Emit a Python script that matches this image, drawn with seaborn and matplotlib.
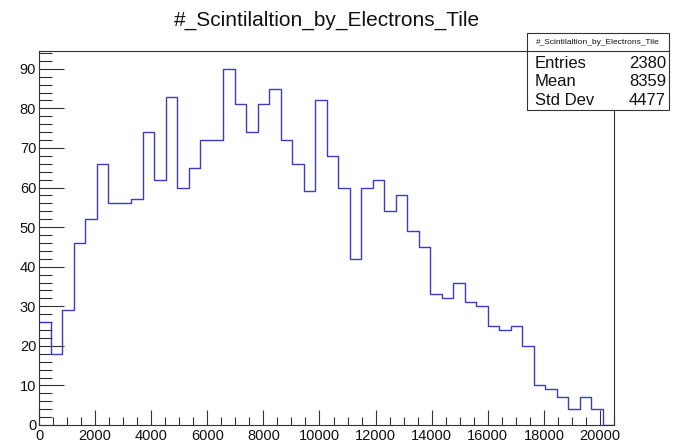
import numpy as np
import pandas as pd
import matplotlib
matplotlib.use("Agg")
import matplotlib.pyplot as plt
from matplotlib.patches import Rectangle
from matplotlib.lines import Line2D
import seaborn as sns

# ---- data ----
x_min, x_max, n_bins = 0, 20500, 50
counts = [26, 18, 29, 46, 52, 66, 56, 56, 57, 74,
          62, 83, 60, 65, 72, 72, 90, 81, 74, 81,
          85, 72, 66, 59, 82, 68, 60, 42, 60, 62,
          54, 58, 49, 45, 33, 32, 36, 31, 30, 25,
          24, 25, 20, 10, 9, 7, 4, 7, 4, 0]
title = "#_Scintilaltion_by_Electrons_Tile"
stat_names = ["Entries", "Mean", "Std Dev"]
stat_values = ["2380", "8359", "4477"]
x_ticks = [0, 2000, 4000, 6000, 8000, 10000, 12000, 14000, 16000, 18000, 20000]
y_ticks = [0, 10, 20, 30, 40, 50, 60, 70, 80, 90]

bin_w = (x_max - x_min) / n_bins
centers = x_min + bin_w * (np.arange(n_bins) + 0.5)
df = pd.DataFrame({"x": centers, "w": counts})

sns.set_style("white")
plt.rcParams["font.family"] = ["Liberation Sans", "DejaVu Sans"]

fig = plt.figure(figsize=(6.75, 4.43), dpi=100)
ax = fig.add_axes([39 / 675, 1 - 425 / 443, (614 - 39) / 675, (425 - 51) / 443])

sns.histplot(data=df, x="x", weights="w", binwidth=bin_w, binrange=(x_min, x_max),
             element="step", fill=False, color="#3d3dc2", linewidth=1.0, ax=ax)

ax.set_xlim(x_min, x_max)
ax.set_ylim(0, max(counts) * 1.05)
ax.set_xlabel("")
ax.set_ylabel("")
ax.set_xticks(x_ticks)
ax.set_xticklabels([str(t) for t in x_ticks])
ax.set_yticks(y_ticks)
ax.set_yticklabels([str(t) for t in y_ticks])
ax.set_xticks(np.arange(0, x_max + 1, 500), minor=True)
ax.set_yticks(np.arange(0, 95, 2), minor=True)
ax.tick_params(axis="both", which="both", direction="in", top=False, right=False,
               bottom=True, left=True,
               colors="#333333", labelcolor="#111111", labelsize=10.5)
ax.tick_params(axis="x", which="major", length=11, width=0.8, pad=3)
ax.tick_params(axis="x", which="minor", length=5.5, width=0.8)
ax.tick_params(axis="y", which="major", length=18, width=0.8, pad=2)
ax.tick_params(axis="y", which="minor", length=9, width=0.8)
for sp in ax.spines.values():
    sp.set_color("#333333")
    sp.set_linewidth(0.8)
    sp.set_visible(True)

fig.text(327 / 675, 1 - 20 / 443, title, ha="center", va="center",
         fontsize=15, color="#111111")

# stats box
bx0, bx1 = 527 / 675, 669 / 675
by0, by1 = 1 - 110 / 443, 1 - 33 / 443
fig.add_artist(Rectangle((bx0, by0), bx1 - bx0, by1 - by0, transform=fig.transFigure,
                         facecolor="white", edgecolor="#333333", linewidth=0.8, zorder=10))
sep_y = 1 - 50.5 / 443
fig.add_artist(Line2D([bx0, bx1], [sep_y, sep_y], transform=fig.transFigure,
                      color="#333333", linewidth=0.8, zorder=11))
fig.text((bx0 + bx1) / 2, 1 - 42.5 / 443, title, ha="center", va="center",
         fontsize=6.0, color="#111111", zorder=12)
row_y = [63, 82, 100.5]
for name, val, yy in zip(stat_names, stat_values, row_y):
    fig.text(535 / 675, 1 - yy / 443, name, ha="left", va="center",
             fontsize=12, color="#111111", zorder=12)
    fig.text(666 / 675, 1 - yy / 443, val, ha="right", va="center",
             fontsize=12, color="#111111", zorder=12)

fig.savefig("out.png", dpi=100, facecolor="white")
